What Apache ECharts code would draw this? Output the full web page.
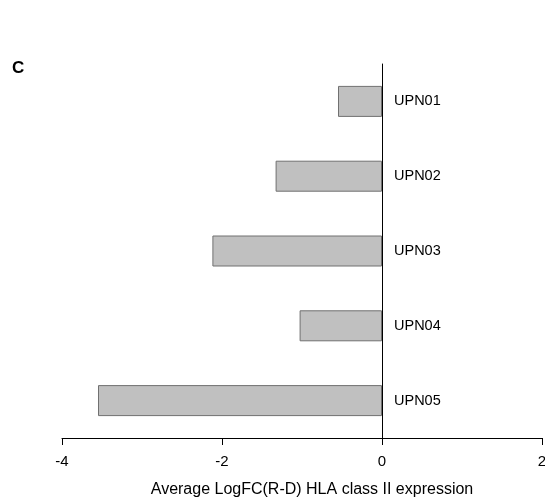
<!DOCTYPE html>
<html>
<head>
<meta charset="utf-8">
<script src="https://cdn.jsdelivr.net/npm/echarts@6/dist/echarts.min.js"></script>
<style>html,body{margin:0;padding:0;background:#fff;}#c{width:545px;height:498px;}</style>
</head>
<body>
<div id="c"></div>
<script>
var categories = ['UPN01', 'UPN02', 'UPN03', 'UPN04', 'UPN05'];
var values = [-0.55, -1.33, -2.12, -1.03, -3.55];
var xTicks = [-4, -2, 0, 2];
var axisTitle = 'Average LogFC(R-D) HLA class II expression';
var panelLabel = 'C';

var font = 'Liberation Sans, Arial, sans-serif';
var gridLeft = 62, gridRight = 3, W = 545;
var xMin = xTicks[0], xMax = xTicks[xTicks.length - 1];
var zeroOffset = -((0 - xMin) / (xMax - xMin)) * (W - gridLeft - gridRight);

var chart = echarts.init(document.getElementById('c'), null, {renderer: 'canvas'});
chart.setOption({
  animation: false,
  backgroundColor: '#fff',
  grid: {left: gridLeft, right: gridRight, top: 64, bottom: 60, containLabel: false, outerBoundsMode: 'none'},
  xAxis: {
    type: 'value',
    min: xMin, max: xMax, interval: 2,
    position: 'bottom',
    name: axisTitle,
    nameLocation: 'middle',
    nameGap: 44,
    nameTextStyle: {fontFamily: font, fontSize: 16, color: '#000', padding: [0, 0, 0, 20]},
    axisLine: {show: true, onZero: false, lineStyle: {color: '#000', width: 1}},
    axisTick: {show: true, length: 7, inside: false, lineStyle: {color: '#000'}},
    axisLabel: {fontFamily: font, fontSize: 15, color: '#000', margin: 16},
    splitLine: {show: false}
  },
  yAxis: {
    type: 'category',
    data: categories,
    inverse: true,
    position: 'left',
    offset: zeroOffset,
    axisLine: {show: true, onZero: false, lineStyle: {color: '#000', width: 1}},
    axisTick: {show: false},
    axisLabel: {inside: true, fontFamily: font, fontSize: 14.5, color: '#000', margin: 12},
    splitLine: {show: false}
  },
  series: [{
    type: 'bar',
    data: values,
    barWidth: 31,
    itemStyle: {color: '#c0c0c0', borderColor: '#707070', borderWidth: 1}
  }],
  graphic: [{
    type: 'text',
    left: 12, top: 60,
    style: {text: panelLabel, font: 'bold 17px ' + font, fill: '#000'}
  }]
});
</script>
</body>
</html>
